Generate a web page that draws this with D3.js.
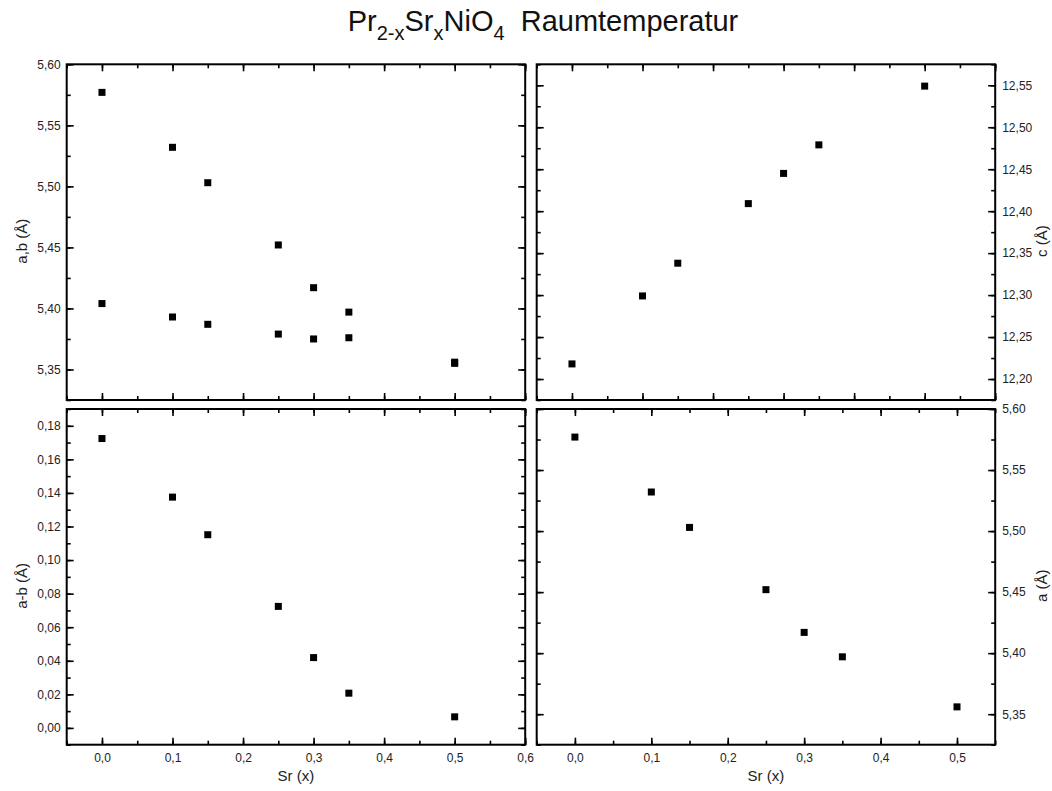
<!DOCTYPE html>
<html>
<head>
<meta charset="utf-8">
<script src="https://cdn.jsdelivr.net/npm/d3@7"></script>
<style>
  body { margin: 0; background: #fff; }
  text { font-family: "Liberation Sans", Arial, sans-serif; }
</style>
</head>
<body>
<script>
// data
var srX = [0, 0.1, 0.15, 0.25, 0.3, 0.35, 0.5];
var latA = [5.577, 5.532, 5.503, 5.452, 5.417, 5.397, 5.356];
var latB = [5.404, 5.393, 5.387, 5.379, 5.375, 5.376, 5.355];
var latC = [12.218, 12.299, 12.338, 12.409, 12.445, 12.479, 12.549];
var diffAB = [0.1724, 0.1375, 0.1151, 0.0724, 0.0419, 0.0207, 0.0066];

// ticks
var xTicksL = [0, 0.1, 0.2, 0.3, 0.4, 0.5, 0.6];
var xTicksR = [0, 0.1, 0.2, 0.3, 0.4, 0.5];
var yTicksAB = [5.35, 5.40, 5.45, 5.50, 5.55, 5.60];
var yTicksC = [12.20, 12.25, 12.30, 12.35, 12.40, 12.45, 12.50, 12.55];
var yTicksD = [0, 0.02, 0.04, 0.06, 0.08, 0.10, 0.12, 0.14, 0.16, 0.18];

var w = 1052, h = 791;

var svg = d3.select("body")
            .append("svg")
            .attr("width", w)
            .attr("height", h);

var comma = (f) => (d) => d3.format(f)(d).replace(".", ",");

function minors(dom, step) {
  var out = [];
  var start = Math.ceil(dom[0] / step - 1e-9);
  for (var i = start; i * step <= dom[1] + 1e-9; i++) out.push(+(i * step).toFixed(4));
  return out;
}

function panel(p) {
  var g = svg.append("g").attr("transform", "translate(" + p.x0 + "," + p.y0 + ")");
  var x = d3.scaleLinear().domain(p.xDom).range([0, p.w]);
  var y = d3.scaleLinear().domain(p.yDom).range([p.h, 0]);

  // minor ticks on all four sides
  var xm = minors(p.xDom, 0.05), ym = minors(p.yDom, p.yMinor);
  [[d3.axisBottom(x), p.h], [d3.axisTop(x), 0]].forEach(function (a) {
    g.append("g").attr("class", "tk").attr("transform", "translate(0," + a[1] + ")")
      .call(a[0].tickValues(xm).tickSize(-4).tickFormat(""));
  });
  [[d3.axisLeft(y), 0], [d3.axisRight(y), p.w]].forEach(function (a) {
    g.append("g").attr("class", "tk").attr("transform", "translate(" + a[1] + ",0)")
      .call(a[0].tickValues(ym).tickSize(-4).tickFormat(""));
  });

  // major ticks
  var bx = d3.axisBottom(x).tickValues(p.xTicks).tickSize(-7).tickPadding(9)
              .tickFormat(p.xLabels ? comma(".1f") : "");
  g.append("g").attr("class", "tk").attr("transform", "translate(0," + p.h + ")").call(bx);
  g.append("g").attr("class", "tk")
    .call(d3.axisTop(x).tickValues(p.xTicks).tickSize(-7).tickFormat(""));

  var yl = d3.axisLeft(y).tickValues(p.yTicks).tickSize(-7).tickPadding(6)
              .tickFormat(p.side == "left" ? comma(".2f") : "");
  var yr = d3.axisRight(y).tickValues(p.yTicks).tickSize(-7).tickPadding(7)
              .tickFormat(p.side == "right" ? comma(".2f") : "");
  g.append("g").attr("class", "tk").call(yl);
  g.append("g").attr("class", "tk").attr("transform", "translate(" + p.w + ",0)").call(yr);

  g.selectAll(".tk .domain").remove();
  g.selectAll(".tk line").attr("stroke", "#000").attr("stroke-width", 1.6);
  g.selectAll(".tk text").attr("font-size", 12).attr("fill", "#222")
    .style("font-family", "Liberation Sans, Arial, sans-serif");

  // frame
  g.append("rect").attr("width", p.w).attr("height", p.h)
    .attr("fill", "none").attr("stroke", "#000").attr("stroke-width", 2);

  // points
  p.series.forEach(function (vals) {
    g.selectAll(null).data(vals).enter().append("rect")
      .attr("x", (d, i) => x(srX[i]) - 3.5)
      .attr("y", (d) => y(d) - 3.5)
      .attr("width", 7).attr("height", 7)
      .attr("fill", "#000");
  });

  // y title
  var tx = p.side == "left" ? -40 : p.w + 52;
  g.append("text")
    .attr("transform", "translate(" + tx + "," + (p.h / 2 + 9) + ") rotate(-90)")
    .attr("text-anchor", "middle")
    .attr("font-size", 15)
    .attr("fill", "#222")
    .text(p.yTitle);

  if (p.xTitle) {
    g.append("text")
      .attr("x", p.w / 2).attr("y", p.h + 36)
      .attr("text-anchor", "middle")
      .attr("font-size", 15)
      .attr("fill", "#222")
      .text(p.xTitle);
  }
}

var L = 66.7, R = 536.7, T = 64.3, B = 409, pw = 458.5, ph = 335.7;

panel({ x0: L, y0: T, w: pw, h: ph, xDom: [-0.05, 0.6], yDom: [5.325, 5.60],
        xTicks: xTicksL, yTicks: yTicksAB, yMinor: 0.025, side: "left",
        series: [latA, latB], yTitle: "a,b (Å)" });

panel({ x0: R, y0: T, w: pw, h: ph, xDom: [-0.05, 0.6], yDom: [12.175, 12.575],
        xTicks: xTicksL, yTicks: yTicksC, yMinor: 0.025, side: "right",
        series: [latC], yTitle: "c (Å)" });

panel({ x0: L, y0: B, w: pw, h: ph, xDom: [-0.05, 0.6], yDom: [-0.01, 0.19],
        xTicks: xTicksL, yTicks: yTicksD, yMinor: 0.01, side: "left", xLabels: true,
        series: [diffAB], yTitle: "a-b (Å)", xTitle: "Sr (x)" });

panel({ x0: R, y0: B, w: pw, h: ph, xDom: [-0.05, 0.55], yDom: [5.325, 5.60],
        xTicks: xTicksR, yTicks: yTicksAB, yMinor: 0.025, side: "right", xLabels: true,
        series: [latA], yTitle: "a (Å)", xTitle: "Sr (x)" });

// title with subscripts
var title = svg.append("text")
  .attr("x", 543).attr("y", 31)
  .attr("text-anchor", "middle")
  .attr("font-size", 29)
  .attr("fill", "#111")
  .attr("xml:space", "preserve");
var parts = [["Pr", 0], ["2-x", 1], ["Sr", 0], ["x", 1], ["NiO", 0], ["4", 1], ["  Raumtemperatur", 0]];
var shift = 0;
parts.forEach(function (pt) {
  var dy = pt[1] ? 9 - shift : -shift;
  shift += dy;
  title.append("tspan")
    .attr("dy", dy)
    .attr("font-size", pt[1] ? 20 : 29)
    .style("white-space", "pre")
    .text(pt[0]);
});
</script>
</body>
</html>
